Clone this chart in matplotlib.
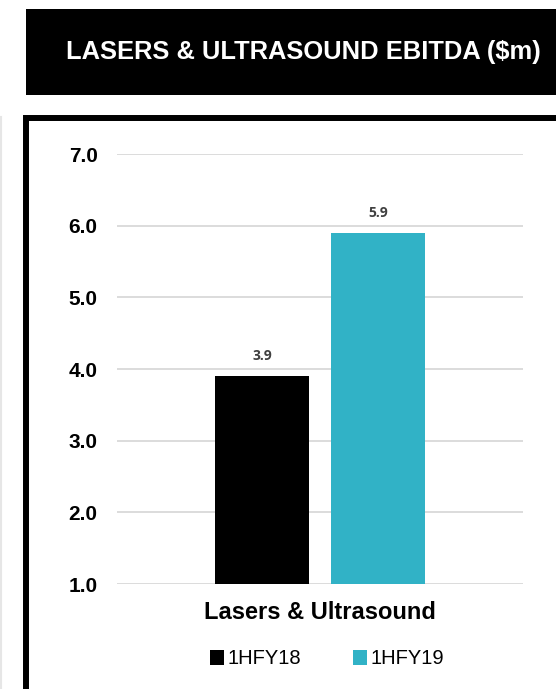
import matplotlib.pyplot as plt
from matplotlib.patches import Rectangle
from matplotlib.lines import Line2D

# EBITDA by half year ($m)
segment = "Lasers & Ultrasound"
periods = ["1HFY18", "1HFY19"]
ebitda = [3.9, 5.9]
bar_colors = ["#000000", "#31b2c6"]
y_ticks = [1.0, 2.0, 3.0, 4.0, 5.0, 6.0, 7.0]

W, H = 556, 689
fig = plt.figure(figsize=(W / 100, H / 100), dpi=100)
fig.patch.set_facecolor("white")


def px(x, y):
    # pixel position (from top-left) -> figure fraction
    return x / W, 1 - y / H


# header band
hx, hy = px(26, 95)
fig.add_artist(Rectangle((hx, hy), 530 / W, 86 / H, transform=fig.transFigure,
                         facecolor="black", edgecolor="none"))
tx, ty = px(303.5, 52)
fig.text(tx, ty, "LASERS & ULTRASOUND EBITDA ($m)", color="white",
         fontsize=18.4, fontweight="bold", family="Liberation Sans",
         ha="center", va="center")

# panel frame (left and top edges)
x0, y0 = px(26, 700)
x1, y1 = px(26, 118)
x2, _ = px(570, 118)
fig.add_artist(Line2D([x0, x1, x2], [y0, y1, y1], transform=fig.transFigure,
                      color="black", linewidth=4.3, solid_joinstyle="miter"))
gx, gy0 = px(1, 117)
_, gy1 = px(1, 700)
fig.add_artist(Line2D([gx, gx], [gy0, gy1], transform=fig.transFigure,
                      color="#e6e6e6", linewidth=1.5))

# chart area
ax = fig.add_axes([117 / W, (H - 584) / H, 406 / W, 430 / H])
width = 0.23
offsets = [-0.143, 0.143]
bars = []
for i, (p, v, c) in enumerate(zip(periods, ebitda, bar_colors)):
    b = ax.bar(offsets[i], v - 1.0, bottom=1.0, width=width, color=c,
               label=p, zorder=2)
    bars.append(b)
    ax.annotate(f"{v:.1f}", (offsets[i], v), xytext=(0, 14.5),
                textcoords="offset points", ha="center", va="center",
                fontsize=10, fontweight="bold", family="Open Sans",
                color="#404040")

ax.set_xlim(-0.5, 0.5)
ax.set_ylim(1.0, 7.0)
ax.set_yticks(y_ticks)
ax.set_yticklabels([f"{t:.1f}" for t in y_ticks], fontsize=15,
                   fontweight="bold", family="Liberation Sans")
ax.set_xticks([0])
ax.set_xticklabels([segment], fontsize=17, fontweight="bold",
                   family="Liberation Sans")
ax.tick_params(axis="y", length=0, pad=14)
ax.tick_params(axis="x", length=0, pad=12)
ax.grid(axis="y", color="#d9d9d9", linewidth=1.3, zorder=0)
ax.set_axisbelow(True)
for s in ax.spines.values():
    s.set_visible(False)

lx, ly = px(327, 659)
fig.legend(handles=[b[0] for b in bars], labels=periods, loc="center",
           bbox_to_anchor=(lx, ly), ncol=2, frameon=False,
           prop={"family": "Liberation Sans", "size": 14.5},
           handlelength=0.7, handleheight=0.7, handletextpad=0.15,
           columnspacing=2.6, borderaxespad=0)

fig.savefig("out.png", dpi=100)
